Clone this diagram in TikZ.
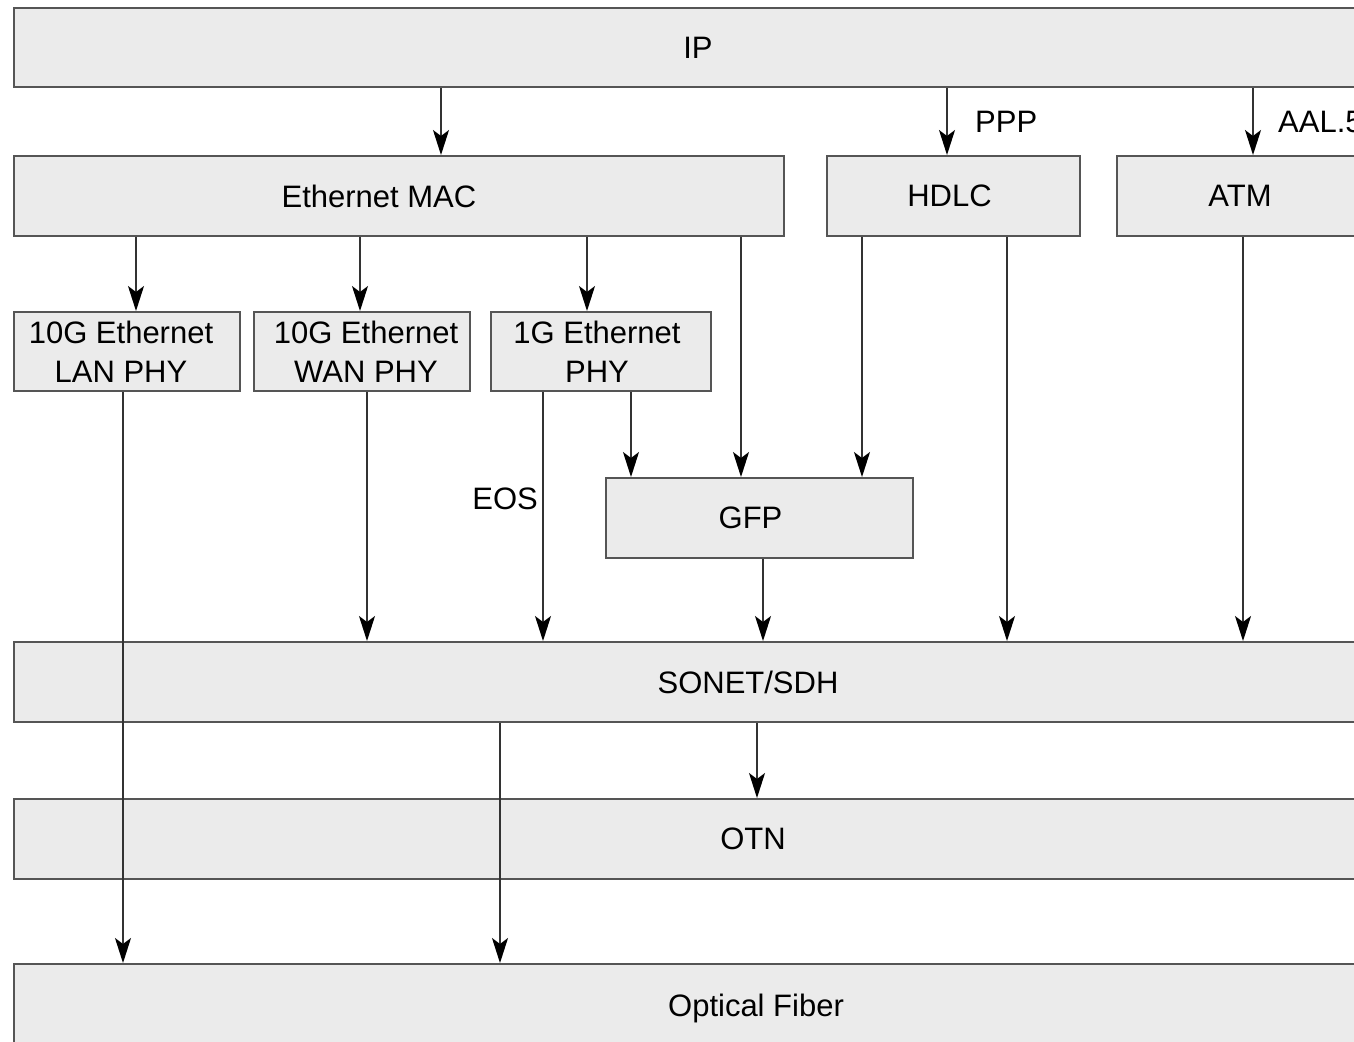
\documentclass[tikz,border=0pt]{standalone}
\usepackage{fontspec}
\setmainfont{Liberation Sans}
\usetikzlibrary{arrows.meta}
\definecolor{boxfill}{HTML}{EBEBEB}
\definecolor{boxline}{HTML}{555555}
\definecolor{arrline}{HTML}{333333}
\begin{document}
\begin{tikzpicture}[x=1pt,y=-1pt,
  box/.style={draw=boxline, fill=boxfill, line width=2pt, inner sep=0pt, anchor=north west,
              font=\fontsize{31}{39}\selectfont, align=center},
  arr/.style={draw=arrline, line width=1.6pt, -{Stealth[length=25pt,width=16pt,inset=6pt,fill=black,color=black]}},
  lbl/.style={font=\fontsize{31}{39}\selectfont, inner sep=0pt}]
\useasboundingbox (0,0) rectangle (1354,1041);
\clip (0,0) rectangle (1354,1041);
\fill[white] (0,0) rectangle (1354,1041);

% boxes
\node[box, minimum width=1368, minimum height=79] (ip) at (13,7) {IP};
\node[box, minimum width=770, minimum height=80] (mac) at (13,155) {\hspace*{-40pt}Ethernet MAC};
\node[box, minimum width=253, minimum height=80] (hdlc) at (826,155) {\hspace*{-8pt}HDLC};
\node[box, minimum width=246, minimum height=80] (atm) at (1116,155) {ATM};
\node[box, minimum width=226, minimum height=79] (lan) at (13,311) {\hspace*{-12pt}10G Ethernet\\\hspace*{-12pt}LAN PHY};
\node[box, minimum width=216, minimum height=79] (wan) at (253,311) {\hspace*{8pt}10G Ethernet\\\hspace*{8pt}WAN PHY};
\node[box, minimum width=220, minimum height=79] (gphy) at (490,311) {\hspace*{-8pt}1G Ethernet\\\hspace*{-8pt}PHY};
\node[box, minimum width=307, minimum height=80, text depth=-4pt] (gfp) at (605,477) {\hspace*{-18pt}GFP};
\node[box, minimum width=1468, minimum height=80] (sonet) at (13,641) {SONET/SDH};
\node[box, minimum width=1478, minimum height=80] (otn) at (13,798) {OTN};
\node[box, minimum width=1484, minimum height=88] (fiber) at (13,963) {Optical Fiber};

% labels
\node[lbl, anchor=west] (ppp) at (975,122) {PPP};
\node[lbl, anchor=west] (aal) at (1278,122) {AAL.5};
\node[lbl, anchor=east] (eos) at (538,499) {EOS};

% connectors
\draw[arr] ([xshift=428pt]ip.south west) -- ([xshift=428pt]mac.north west);
\draw[arr] ([xshift=934pt]ip.south west) -- ([xshift=121pt]hdlc.north west);
\draw[arr] ([xshift=1240pt]ip.south west) -- ([xshift=137pt]atm.north west);
\draw[arr] ([xshift=123pt]mac.south west) -- ([xshift=123pt]lan.north west);
\draw[arr] ([xshift=347pt]mac.south west) -- ([xshift=107pt]wan.north west);
\draw[arr] ([xshift=574pt]mac.south west) -- ([xshift=97pt]gphy.north west);
\draw[arr] ([xshift=728pt]mac.south west) -- ([xshift=136pt]gfp.north west);
\draw[arr] ([xshift=36pt]hdlc.south west) -- ([xshift=257pt]gfp.north west);
\draw[arr] ([xshift=181pt]hdlc.south west) -- ([xshift=994pt]sonet.north west);
\draw[arr] ([xshift=127pt]atm.south west) -- ([xshift=1230pt]sonet.north west);
\draw[arr] ([xshift=110pt]lan.south west) -- ([xshift=110pt]fiber.north west);
\draw[arr] ([xshift=114pt]wan.south west) -- ([xshift=354pt]sonet.north west);
\draw[arr] ([xshift=53pt]gphy.south west) -- ([xshift=530pt]sonet.north west);
\draw[arr] ([xshift=141pt]gphy.south west) -- ([xshift=26pt]gfp.north west);
\draw[arr] ([xshift=158pt]gfp.south west) -- ([xshift=750pt]sonet.north west);
\draw[arr] ([xshift=744pt]sonet.south west) -- ([xshift=744pt]otn.north west);
\draw[arr] ([xshift=487pt]sonet.south west) -- ([xshift=487pt]fiber.north west);
\end{tikzpicture}
\end{document}
